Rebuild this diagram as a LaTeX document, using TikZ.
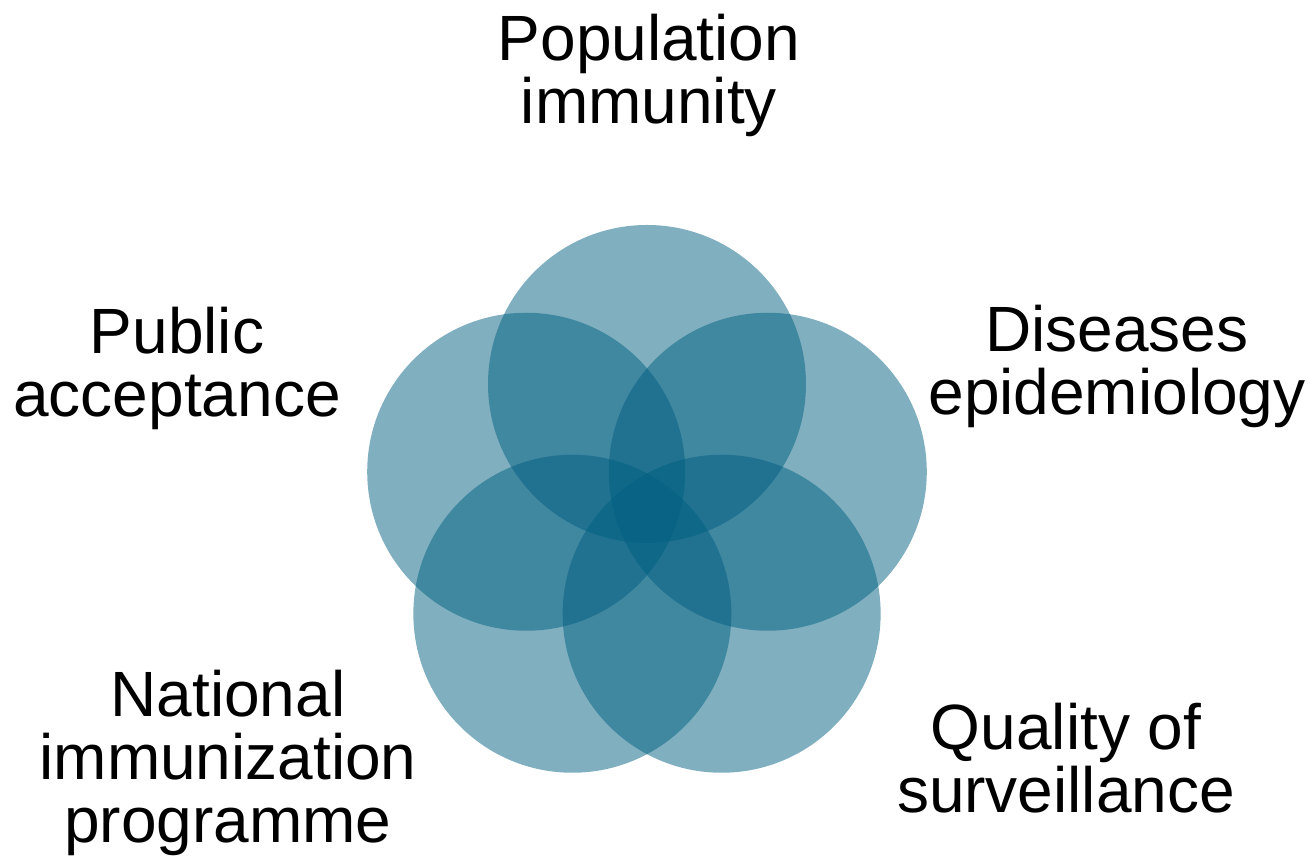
\documentclass[tikz,border=0pt]{standalone}
\usepackage{fontspec}
\setmainfont{Liberation Sans}
\usetikzlibrary{positioning, calc}
\definecolor{petrol}{RGB}{1,95,129}
\newcommand{\R}{127}
\begin{document}
\begin{tikzpicture}[x=0.5pt, y=0.5pt,
  blob/.style={circle, inner sep=0pt, minimum size=159pt, fill=petrol, fill opacity=0.5},
  lbl/.style={anchor=north, inner sep=0pt, align=center,
    font=\fontsize{32}{31.5}\selectfont}]
\useasboundingbox (0,0) rectangle (1308,856);
\coordinate (mid) at (647,345);
% circles
\node[blob] (cpop) at ($(mid)+(90:\R)$) {};
\node[blob] (cdis) at ($(mid)+(18:\R)$) {};
\node[blob] (cqua) at ($(mid)+(306:\R)$) {};
\node[blob] (cnat) at ($(mid)+(234:\R)$) {};
\node[blob] (cpub) at ($(mid)+(162:\R)$) {};
% labels
\node[lbl] (pop) at (649,842) {Population\\immunity};
\node[lbl] (pub) at (177,549) {Public\\acceptance};
\node[lbl] (dis) at (1117,551) {Diseases\\epidemiology};
\node[lbl] (nat) at (228,186) {National\\immunization\\programme};
\node[lbl] (qua) at (1066,153) {Quality of\\surveillance};
\end{tikzpicture}
\end{document}
